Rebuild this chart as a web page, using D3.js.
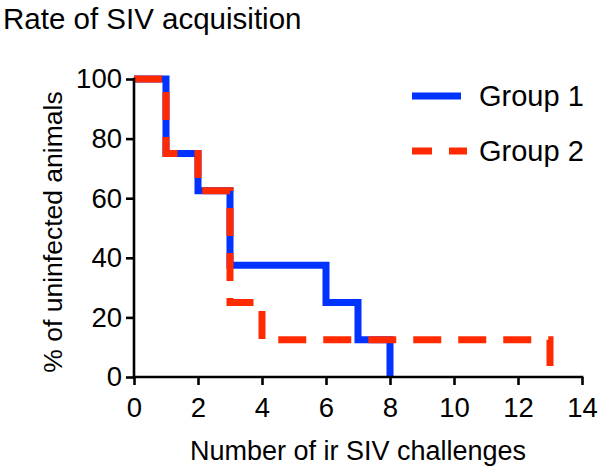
<!DOCTYPE html>
<html>
<head>
<meta charset="utf-8">
<script src="https://cdn.jsdelivr.net/npm/d3@7/dist/d3.min.js"></script>
<style>
  html, body { margin: 0; padding: 0; background: #fff; }
  svg { display: block; }
  text { font-family: "Liberation Sans", Arial, Helvetica, sans-serif; fill: #000; }
</style>
</head>
<body>
<svg id="chart" width="600" height="469"></svg>
<script>
// ---- data ----
const title = "Rate of SIV acquisition";
const xLabel = "Number of ir SIV challenges";
const yLabel = "% of uninfected animals";
const seriesNames = ["Group 1", "Group 2"];
const group1Times = [0, 1, 2, 3, 6, 7, 8];
const group1Values = [100, 75, 62.5, 37.5, 25, 12.5, 0];
const group2Times = [0, 1, 2, 3, 4, 13];
const group2Values = [100, 75, 62.5, 25, 12.5, 0];
const xTicks = [0, 2, 4, 6, 8, 10, 12, 14];
const yTicks = [0, 20, 40, 60, 80, 100];

// ---- layout ----
const W = 600, H = 469;
const margin = { top: 79, right: 18, bottom: 92, left: 134 };
const svg = d3.select("#chart");

const x = d3.scaleLinear().domain([0, 14]).range([margin.left, W - margin.right]);
const y = d3.scaleLinear().domain([0, 100]).range([H - margin.bottom, margin.top]);

const colors = ["#0033ff", "#ff2a00"];

// lines
const line = d3.line().x(d => x(d[0])).y(d => y(d[1])).curve(d3.curveStepAfter);
const g1 = group1Times.map((t, i) => [t, group1Values[i]]);
const g2 = group2Times.map((t, i) => [t, group2Values[i]]);

svg.append("path").datum(g1)
  .attr("d", line).attr("fill", "none")
  .attr("stroke", colors[0]).attr("stroke-width", 7)
  .attr("stroke-linejoin", "miter").attr("stroke-linecap", "butt");

svg.append("path").datum(g2)
  .attr("d", line).attr("fill", "none")
  .attr("stroke", colors[1]).attr("stroke-width", 7)
  .attr("stroke-dasharray", "28,17")
  .attr("stroke-linejoin", "miter").attr("stroke-linecap", "butt");

// axes
const xAxis = svg.append("g")
  .attr("transform", `translate(0,${y(0)})`)
  .call(d3.axisBottom(x).tickValues(xTicks).tickSize(8).tickPadding(12).tickSizeOuter(0));
const yAxis = svg.append("g")
  .attr("transform", `translate(${x(0)},0)`)
  .call(d3.axisLeft(y).tickValues(yTicks).tickSize(8).tickPadding(4).tickSizeOuter(0));

[xAxis, yAxis].forEach(a => {
  a.select(".domain").attr("stroke", "#000").attr("stroke-width", 2.6);
  a.selectAll(".tick line").attr("stroke", "#000").attr("stroke-width", 2.6);
  a.selectAll(".tick text")
    .style("font-family", '"Liberation Sans", Arial, Helvetica, sans-serif')
    .style("font-size", "27.5px").attr("fill", "#000");
});
// extend domains to meet at corner
xAxis.select(".domain").attr("d", `M${x(0) - 1.3},0H${x(14) + 1.3}`);
yAxis.select(".domain").attr("d", `M0,${y(100) - 1.3}V${y(0) + 1.3}`);

// title
svg.append("text").attr("x", 3).attr("y", 29)
  .style("font-size", "29.5px").text(title);

// axis labels
svg.append("text")
  .attr("x", (x(0) + x(14)) / 2).attr("y", 460)
  .attr("text-anchor", "middle").style("font-size", "27px").text(xLabel);
svg.append("text")
  .attr("transform", `translate(62,${(y(0) + y(100)) / 2 + 4}) rotate(-90)`)
  .attr("text-anchor", "middle").style("font-size", "26.5px").text(yLabel);

// legend
const legY = [96, 151];
const legDash = [null, "20,17"];
seriesNames.forEach((name, i) => {
  const l = svg.append("line")
    .attr("x1", 412).attr("x2", i === 0 ? 461 : 467)
    .attr("y1", legY[i]).attr("y2", legY[i])
    .attr("stroke", colors[i]).attr("stroke-width", 7);
  if (legDash[i]) l.attr("stroke-dasharray", legDash[i]);
  svg.append("text").attr("x", 479).attr("y", legY[i] + 10)
    .style("font-size", "29px").text(name);
});
</script>
</body>
</html>
